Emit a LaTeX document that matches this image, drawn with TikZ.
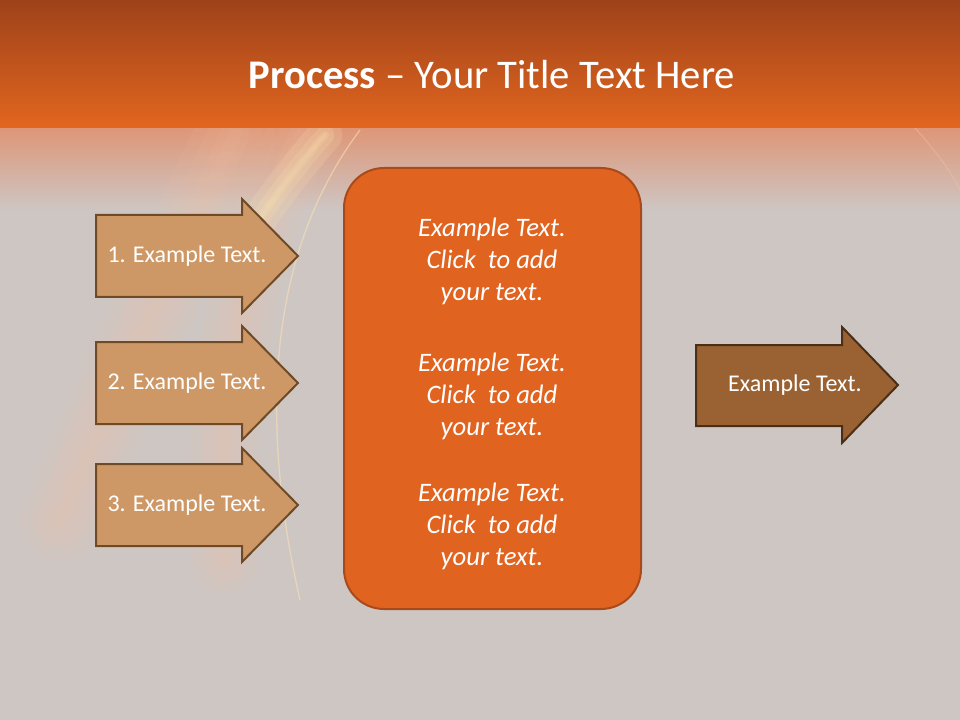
\documentclass[tikz,border=0pt]{standalone}
\usepackage{fontspec}
\setmainfont{Carlito}
\definecolor{bggray}{HTML}{CEC6C3}
\definecolor{topdark}{HTML}{9E421A}
\definecolor{topor}{HTML}{E2661F}
\definecolor{peachfade}{HTML}{DE9678}
\definecolor{glow}{HTML}{F6C2A0}
\definecolor{glowy}{HTML}{FBE3B0}
\definecolor{lafill}{HTML}{CD9865}
\definecolor{ladraw}{HTML}{6E4A26}
\definecolor{rafill}{HTML}{9A6232}
\definecolor{radraw}{HTML}{4B2E16}
\definecolor{boxfill}{HTML}{E06320}
\definecolor{boxdraw}{HTML}{A94A1C}
\tikzset{
  leftarrow/.style={fill=lafill, draw=ladraw, line width=1.5pt, line join=miter},
  rightarrow/.style={fill=rafill, draw=radraw, line width=1.5pt, line join=miter},
  centerbox/.style={fill=boxfill, draw=boxdraw, line width=1.5pt},
  arrowlbl/.style={text=white, font=\fontsize{18}{22}\selectfont, inner sep=0pt},
  boxlbl/.style={text=white, font=\itshape\fontsize{20}{24}\selectfont, align=center, inner sep=0pt},
  titlelbl/.style={text=white, font=\fontsize{30.5}{36}\selectfont, inner sep=0pt},
  softglow/.style={line cap=round, opacity=0.09}
}
\begin{document}
\begin{tikzpicture}[x=0.75pt,y=-0.75pt]
\useasboundingbox (0,0) rectangle (960,720);
% background
\fill[bggray] (0,0) rectangle (960,720);
\shade[top color=peachfade, bottom color=bggray] (0,128) rectangle (960,210);
% soft glows
\foreach \w in {60,40,22,10}{
  \draw[glow, softglow, line width=\w pt] (235,135) .. controls (180,250) and (120,380) .. (60,520);
}
\foreach \w in {50,32,16,8}{
  \draw[glow, softglow, line width=\w pt] (300,135) .. controls (240,260) and (215,400) .. (225,560);
}
\foreach \w in {26,14,6,3}{
  \draw[glowy, line cap=round, opacity=0.18, line width=\w pt] (325,135) .. controls (290,175) and (260,215) .. (232,262);
}
\draw[glowy, opacity=0.55, line width=1pt] (360,130) .. controls (285,230) and (250,380) .. (300,600);
\draw[glow, opacity=0.45, line width=0.8pt] (915,128) .. controls (935,150) and (950,170) .. (960,190);
% top band
\shade[top color=topdark, bottom color=topor] (0,0) rectangle (960,128);
% title
\node[titlelbl] (title) at (492,75) {\textbf{Process} – Your Title Text Here};
% left arrows
\foreach \cy/\n in {256/1,383/2,505/3}{
  \draw[leftarrow] (96,\cy-41) -- (242,\cy-41) -- (242,\cy-57) -- (298,\cy)
     -- (242,\cy+57) -- (242,\cy+41) -- (96,\cy+41) -- cycle;
  \node[arrowlbl] (step\n) at (187,\cy) {\n. Example Text.};
}
% central box
\draw[centerbox, rounded corners=30pt] (344,168) rectangle (641,609);
\node[boxlbl] (box1) at (492,261) {Example Text.\\Click\ \ to add\\your text.};
\node[boxlbl] (box2) at (492,396) {Example Text.\\Click\ \ to add\\your text.};
\node[boxlbl] (box3) at (492,526) {Example Text.\\Click\ \ to add\\your text.};
% right arrow
\draw[rightarrow] (696,345) -- (842,345) -- (842,327) -- (898,385)
   -- (842,443) -- (842,426) -- (696,426) -- cycle;
\node[arrowlbl] (result) at (795,385) {Example Text.};
\end{tikzpicture}
\end{document}
